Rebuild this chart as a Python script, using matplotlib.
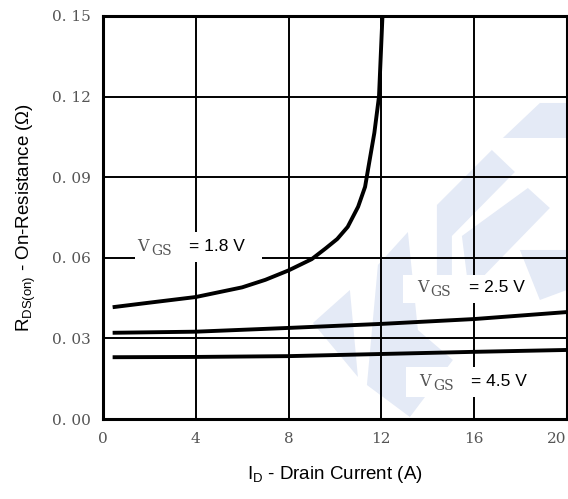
import matplotlib.pyplot as plt
from matplotlib.patches import Polygon, Rectangle

# drain current (A) / on-resistance (ohm)
id_18 = [0.5, 2, 4, 6, 7, 8, 9, 9.6, 10.1, 10.55, 11.0, 11.3, 11.45, 11.7, 11.9, 12.05]
rds_18 = [0.0417, 0.0433, 0.0454, 0.049, 0.0518, 0.0553, 0.0595, 0.0635, 0.067, 0.0715,
          0.079, 0.0864, 0.094, 0.1065, 0.12, 0.15]
id_25 = [0.5, 4, 8, 12, 16, 20]
rds_25 = [0.0321, 0.0325, 0.0339, 0.0354, 0.0372, 0.0398]
id_45 = [0.5, 4, 8, 12, 16, 20]
rds_45 = [0.023, 0.0231, 0.0234, 0.0242, 0.025, 0.0257]

xticks = [0, 4, 8, 12, 16, 20]
yticks = [0.0, 0.03, 0.06, 0.09, 0.12, 0.15]
ytick_labels = ["0. 00", "0. 03", "0. 06", "0. 09", "0. 12", "0. 15"]

fig = plt.figure(figsize=(5.68, 4.99), dpi=100)
ax = fig.add_axes([0.1813, 0.1603, 0.8167, 0.8077])
ax.set_xlim(0, 20)
ax.set_ylim(0, 0.15)


# faint background logo, given in pixel positions of the plot box
def pix(pts):
    return [((px - 103) / 464, (419 - py) / 403) for px, py in pts]


logo = [
    [(503, 138), (540, 103), (567, 103), (567, 138)],
    [(492, 150), (515, 172), (452, 236), (452, 300), (437, 300), (437, 205)],
    [(528, 188), (550, 208), (478, 282), (470, 300), (462, 236)],
    [(408, 232), (378, 265), (367, 385), (410, 417), (453, 360), (418, 330)],
    [(350, 290), (313, 323), (358, 377)],
    [(520, 250), (567, 250), (567, 290), (540, 300)],
]
for pts in logo:
    ax.add_patch(Polygon(pix(pts), closed=True, transform=ax.transAxes,
                         facecolor="#e4eaf6", edgecolor="none", zorder=0))

ax.set_xticks(xticks)
ax.set_yticks(yticks)
ax.set_xticklabels([str(t) for t in xticks])
ax.set_yticklabels(ytick_labels)
ax.tick_params(length=0, labelsize=11, labelcolor="#555555", pad=9)
for lab in ax.get_xticklabels() + ax.get_yticklabels():
    lab.set_family("DejaVu Serif")
ax.get_xticklabels()[-1].set_ha("right")
ax.grid(True, color="black", linewidth=1.4, zorder=1)
ax.set_axisbelow(True)
for sp in ax.spines.values():
    sp.set_linewidth(2.2)
    sp.set_zorder(5)

ax.plot(id_18, rds_18, color="black", linewidth=2.8, zorder=4)
ax.plot(id_25, rds_25, color="black", linewidth=2.8, zorder=4)
ax.plot(id_45, rds_45, color="black", linewidth=2.8, zorder=4)

# curve labels on white boxes that hide the grid behind them
labels = [
    # box x0, box x1, box y0, box y1, text x, text y, value
    (1.38, 6.85, 0.0584, 0.0696, 1.47, 0.0642, "= 1.8 V"),
    (12.93, 18.28, 0.0432, 0.0536, 13.53, 0.0489, "= 2.5 V"),
    (13.06, 17.84, 0.0082, 0.0194, 13.62, 0.0141, "= 4.5 V"),
]
for x0, x1, y0, y1, tx, ty, val in labels:
    ax.add_patch(Rectangle((x0, y0), x1 - x0, y1 - y0, facecolor="white",
                           edgecolor="none", zorder=2))
    ax.text(tx, ty, "V", family="DejaVu Serif", fontsize=11.5, color="#555555",
            va="center", ha="left", zorder=3)
    ax.text(tx + 0.6, ty - 0.0018, "GS", family="DejaVu Serif", fontsize=10,
            color="#555555", va="center", ha="left", zorder=3)
    ax.text(tx + 2.25, ty, val, family="Liberation Sans", fontsize=12.5,
            color="black", va="center", ha="left", zorder=3)

ax.set_xlabel("I$_\\mathregular{D}$ - Drain Current (A)", family="Liberation Sans",
              fontsize=13.5, labelpad=13)
ax.set_ylabel("R$_\\mathregular{DS(on)}$ - On-Resistance (Ω)", family="Liberation Sans",
              fontsize=13.5, labelpad=10)

fig.savefig("out.png", dpi=100)
